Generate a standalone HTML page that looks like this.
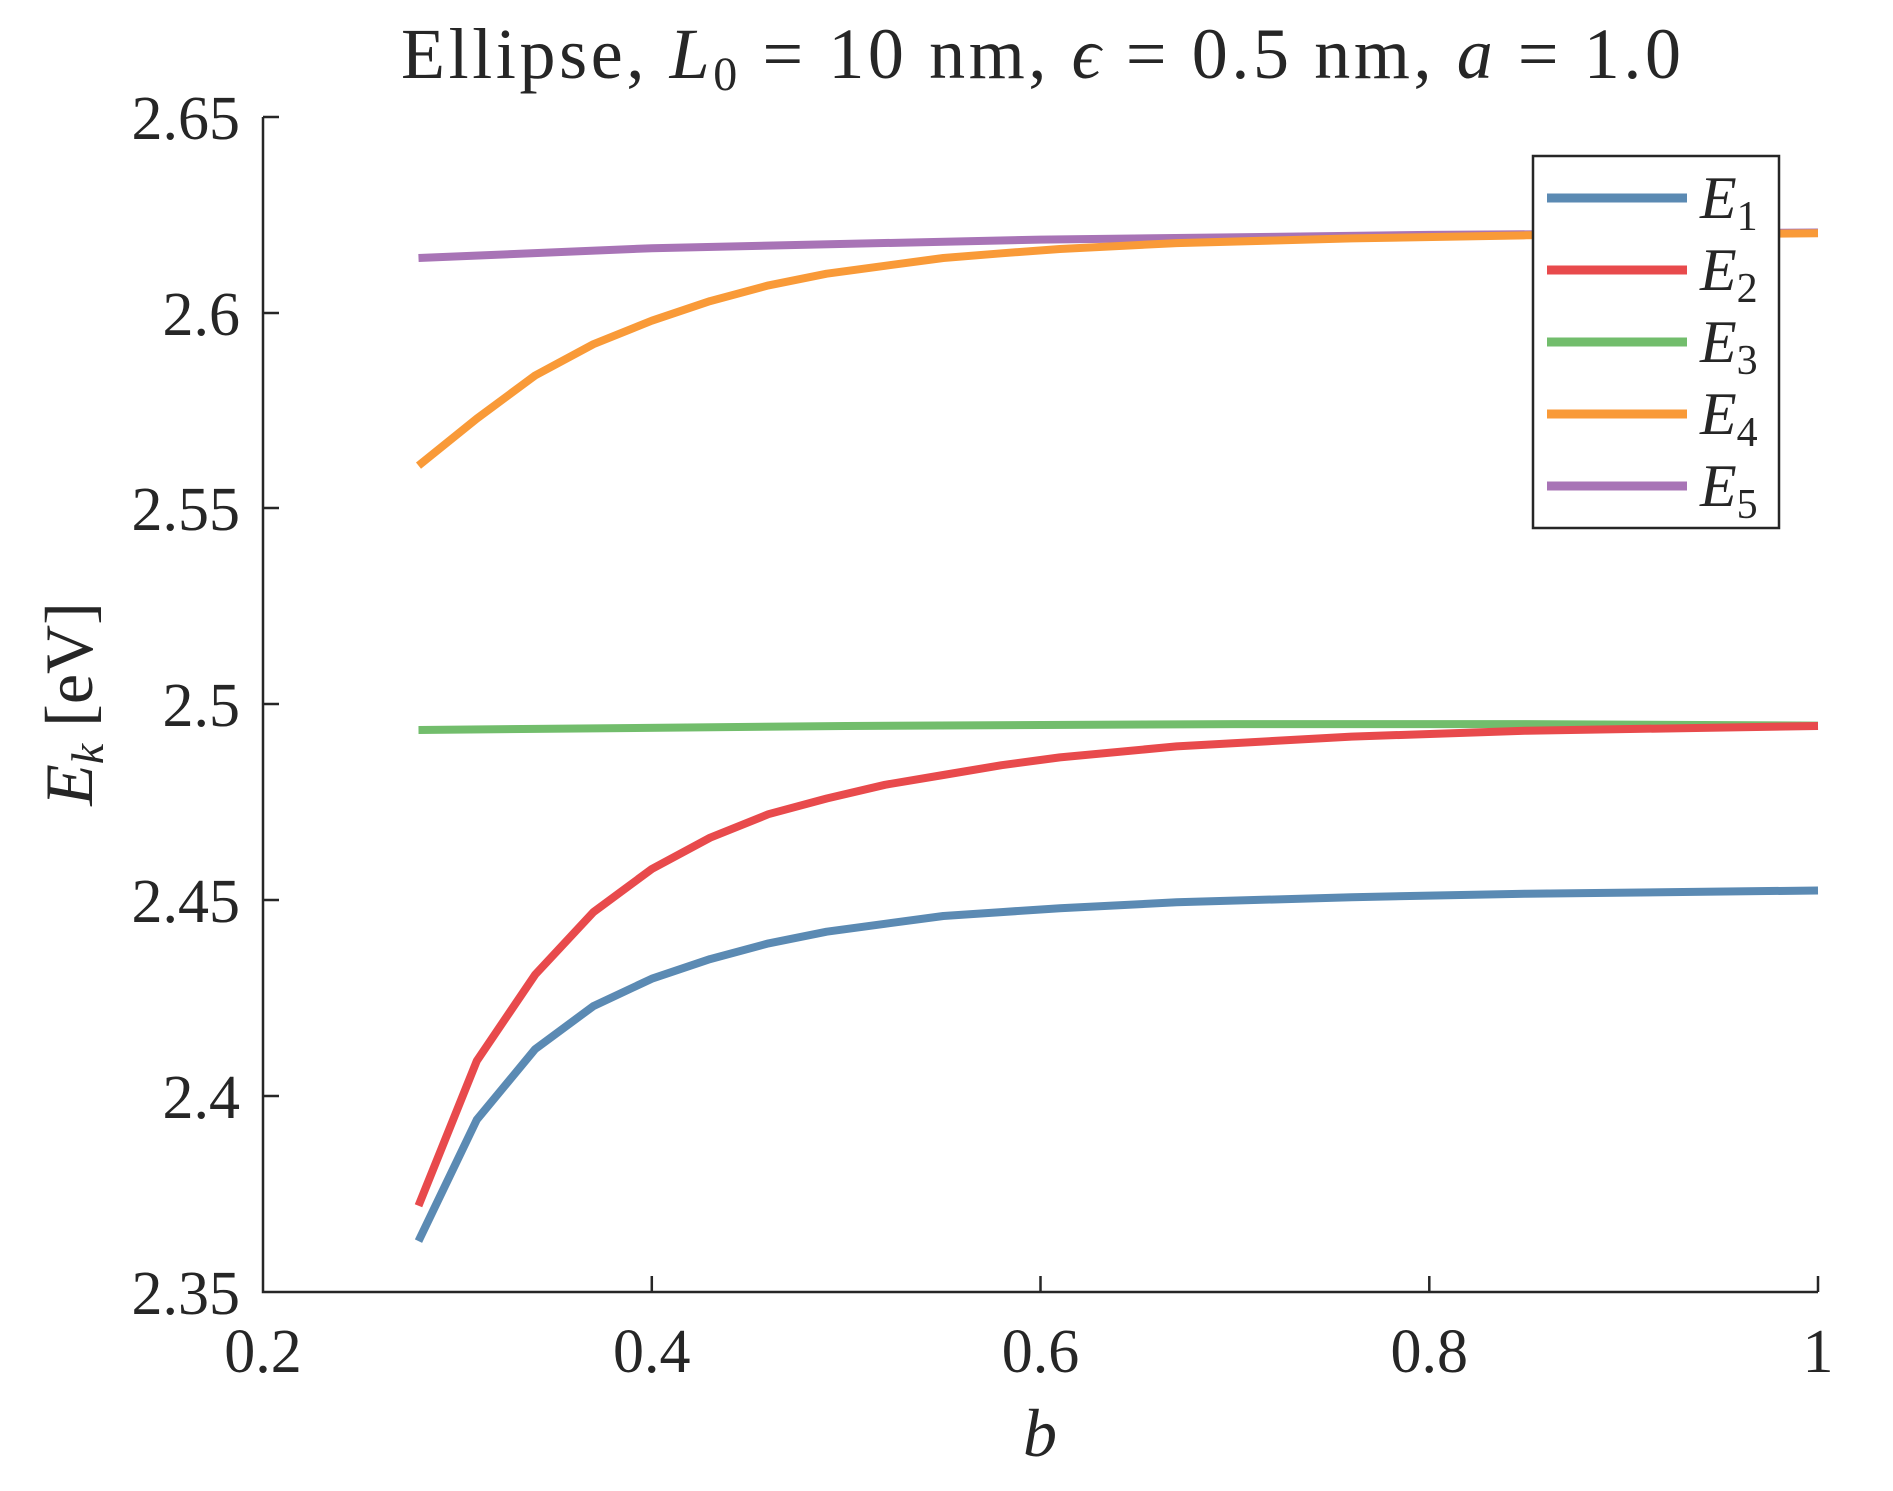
<!DOCTYPE html>
<html><head><meta charset="utf-8"><style>body{margin:0;background:#fff}svg{display:block}</style></head>
<body>
<svg width="1893" height="1491" xmlns="http://www.w3.org/2000/svg" font-family="'Liberation Serif', serif" fill="#262626">
<rect width="1893" height="1491" fill="#fff"/>
<text x="401" y="78" font-size="72" textLength="1280" lengthAdjust="spacing">Ellipse, <tspan font-style="italic">L</tspan><tspan font-size="48" dy="12">0</tspan><tspan dy="-12"> = 10 nm, </tspan><tspan font-style="italic">ϵ</tspan> = 0.5 nm, <tspan font-style="italic">a</tspan> = 1.0</text>
<g stroke="#262626" stroke-width="2.5" fill="none">
<path d="M263,117 V1292 H1818"/>
<path d="M263,117 h16 M263,313 h16 M263,508 h16 M263,704 h16 M263,900 h16 M263,1096 h16"/>
<path d="M651.8,1292 v-16 M1040.5,1292 v-16 M1429.3,1292 v-16 M1818,1292 v-16"/>
</g>
<g font-size="62" text-anchor="end">
<text x="240" y="139">2.65</text><text x="240" y="335">2.6</text><text x="240" y="530">2.55</text><text x="240" y="726">2.5</text><text x="240" y="922">2.45</text><text x="240" y="1118">2.4</text><text x="240" y="1314">2.35</text>
</g>
<g font-size="62" text-anchor="middle">
<text x="263" y="1372">0.2</text><text x="651.8" y="1372">0.4</text><text x="1040.5" y="1372">0.6</text><text x="1429.3" y="1372">0.8</text><text x="1818" y="1372">1</text>
</g>
<text x="1040" y="1456" font-size="68" font-style="italic" text-anchor="middle">b</text>
<text transform="translate(92,704) rotate(-90)" font-size="68" text-anchor="middle"><tspan font-style="italic">E</tspan><tspan font-style="italic" font-size="46" dy="11">k</tspan><tspan dy="-11">  [eV]</tspan></text>
<g fill="none" stroke-width="8" stroke-linejoin="round">
<polyline stroke="#72BD6C" points="418.5,730 846.1,726 1235,724.1 1526.4,724.1 1818,725.6"/>
<polyline stroke="#A874B6" points="418.5,258 651.8,248.2 1040.5,239.6 1429.3,234.9 1818,232.5"/>
<polyline stroke="#F99A38" points="418.5,465.6 476.8,418.6 535.1,375.5 593.4,344.2 651.8,320.7 710.1,301.1 768.4,285.4 826.7,273.7 885,265.8 943.3,258 1001.6,253.3 1059.9,249 1176.6,243.1 1351.5,238.4 1526.4,235.3 1818,233.3"/>
<polyline stroke="#5B8AB3" points="418.5,1241.1 476.8,1119.7 535.1,1049.2 593.4,1006.1 651.8,978.7 710.1,959.1 768.4,943.4 826.7,931.7 885,923.8 943.3,916 1001.6,912.1 1059.9,908.2 1176.6,902.3 1351.5,897.2 1526.4,893.7 1818,890.5"/>
<polyline stroke="#E84A4C" points="418.5,1205.8 476.8,1060.9 535.1,974.7 593.4,912.1 651.8,869 710.1,837.7 768.4,814.2 826.7,798.5 885,784.8 943.3,775 1001.6,765.2 1059.9,757.4 1176.6,746.4 1351.5,736.6 1526.4,730.7 1818,726"/>
</g>
<rect x="1533" y="156" width="246" height="372" fill="#fff" stroke="#262626" stroke-width="2.5"/>
<g stroke-width="9">
<line x1="1547" y1="198" x2="1687" y2="198" stroke="#5B8AB3"/>
<line x1="1547" y1="270" x2="1687" y2="270" stroke="#E84A4C"/>
<line x1="1547" y1="342" x2="1687" y2="342" stroke="#72BD6C"/>
<line x1="1547" y1="414" x2="1687" y2="414" stroke="#F99A38"/>
<line x1="1547" y1="486" x2="1687" y2="486" stroke="#A874B6"/>
</g>
<g font-size="60" font-style="italic">
<text x="1700" y="218">E<tspan font-style="normal" font-size="42" dy="12">1</tspan></text>
<text x="1700" y="290">E<tspan font-style="normal" font-size="42" dy="12">2</tspan></text>
<text x="1700" y="362">E<tspan font-style="normal" font-size="42" dy="12">3</tspan></text>
<text x="1700" y="434">E<tspan font-style="normal" font-size="42" dy="12">4</tspan></text>
<text x="1700" y="506">E<tspan font-style="normal" font-size="42" dy="12">5</tspan></text>
</g>
</svg>
</body></html>
